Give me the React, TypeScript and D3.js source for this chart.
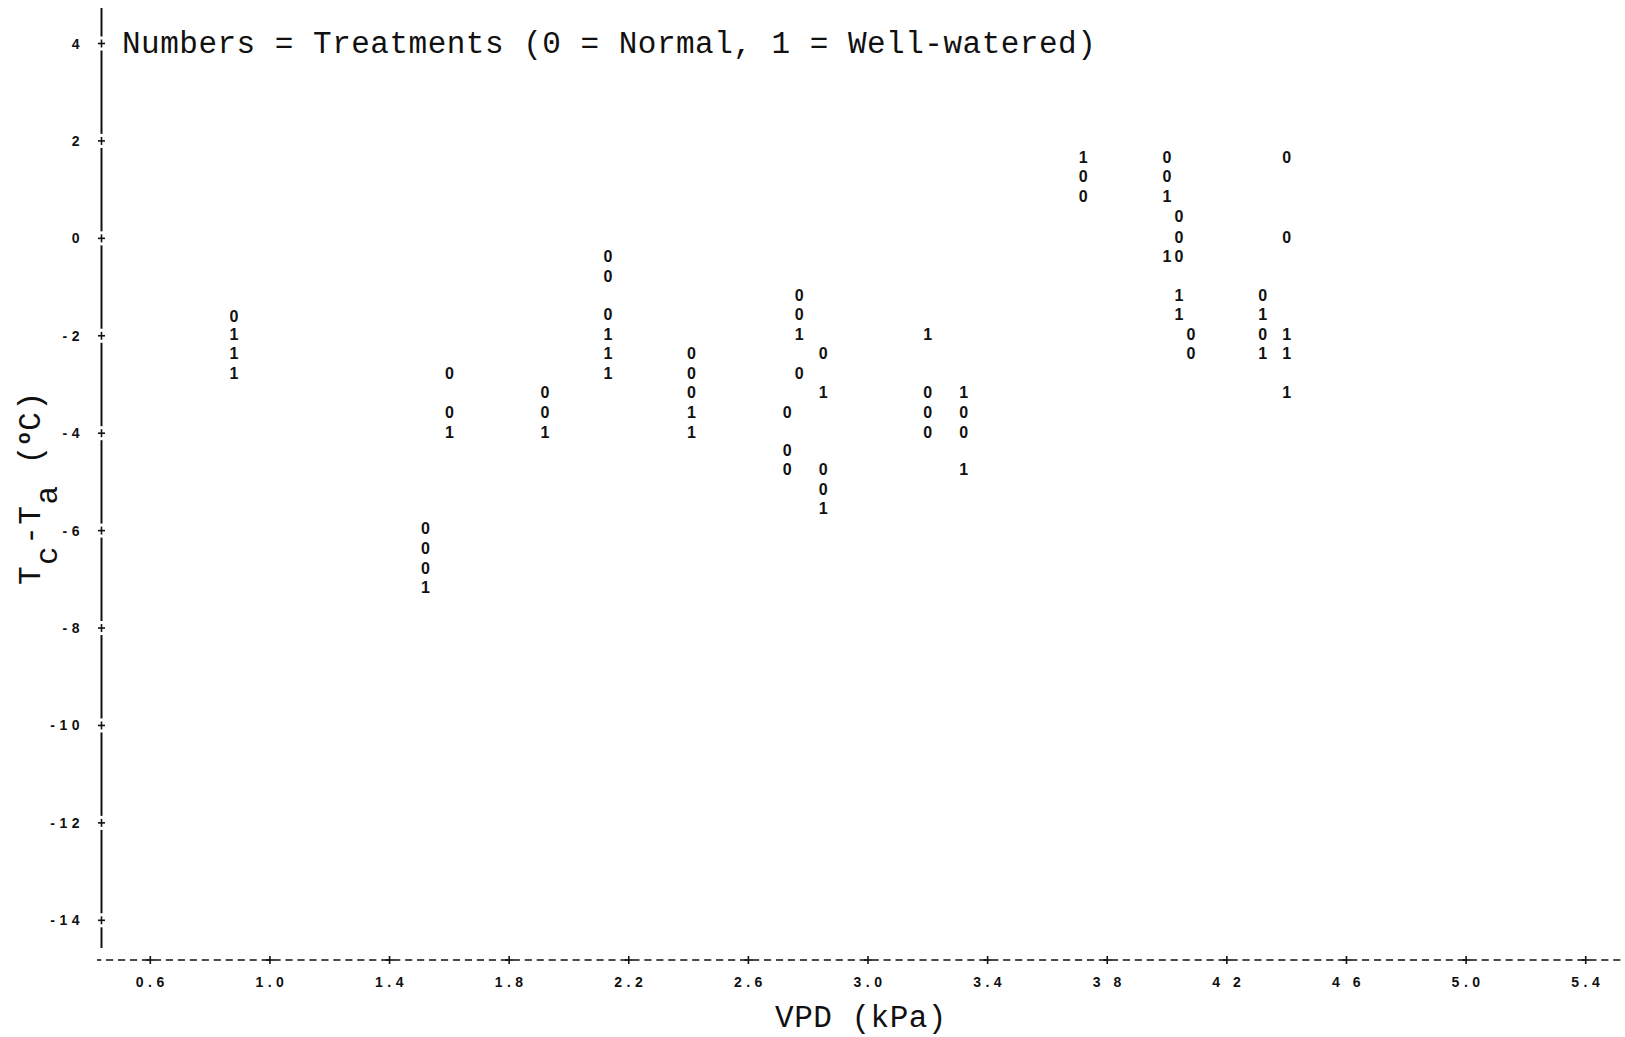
import React from "react";
import * as d3 from "d3";

// Treatment 0 = Normal
const normalVpd = [0.88, 1.52, 1.52, 1.52, 1.60, 1.60, 1.92, 1.92, 2.13, 2.13, 2.13, 2.41, 2.41, 2.41, 2.73, 2.73, 2.73, 2.77, 2.77, 2.77, 2.85, 2.85, 2.85, 3.20, 3.20, 3.20, 3.32, 3.32, 3.72, 3.72, 4.00, 4.00, 4.04, 4.04, 4.04, 4.08, 4.08, 4.32, 4.32, 4.40, 4.40];
const normalDiff = [-1.60, -5.96, -6.36, -6.77, -2.77, -3.57, -3.17, -3.57, -0.38, -0.79, -1.57, -2.36, -2.77, -3.17, -3.57, -4.36, -4.74, -1.17, -1.57, -2.77, -2.36, -4.74, -5.15, -3.17, -3.57, -3.98, -3.57, -3.98, 1.26, 0.85, 1.66, 1.26, 0.45, 0.02, -0.38, -1.98, -2.36, -1.17, -1.98, 1.66, 0.02];

// Treatment 1 = Well-watered
const wetVpd = [0.88, 0.88, 0.88, 1.52, 1.60, 1.92, 2.13, 2.13, 2.13, 2.41, 2.41, 2.77, 2.85, 2.85, 3.20, 3.32, 3.32, 3.72, 4.00, 4.00, 4.04, 4.04, 4.32, 4.32, 4.40, 4.40, 4.40];
const wetDiff = [-1.98, -2.36, -2.77, -7.17, -3.98, -3.98, -1.98, -2.36, -2.77, -3.57, -3.98, -1.98, -3.17, -5.55, -1.98, -3.17, -4.74, 1.66, 0.85, -0.38, -1.17, -1.57, -1.57, -2.36, -1.98, -2.36, -3.17];

const xTicks = [0.6, 1.0, 1.4, 1.8, 2.2, 2.6, 3.0, 3.4, 3.8, 4.2, 4.6, 5.0, 5.4];
const xTickLabels = ["0.6", "1.0", "1.4", "1.8", "2.2", "2.6", "3.0", "3.4", "3 8", "4 2", "4 6", "5.0", "5.4"];
const yTicks = [4, 2, 0, -2, -4, -6, -8, -10, -12, -14];

const title = "Numbers = Treatments (0 = Normal, 1 = Well-watered)";
const xTitle = "VPD (kPa)";

export default function App() {
  const W = 1625, H = 1037;
  const x = d3.scaleLinear().domain([0.6, 5.4]).range([150.3, 1585.7]);
  const y = d3.scaleLinear().domain([4, -14]).range([43.5, 920.3]);
  const axisX = 101.5;
  const axisY = 960;
  const mono = "'Liberation Mono', 'Courier New', monospace";
  const sans = "'Liberation Sans', Arial, sans-serif";
  const period = (x(1.0) - x(0.6)) / 10;

  // y-axis segments between ticks (gaps at "+")
  const yStops = [8, ...yTicks.map((t) => y(t)), 948];
  const segs: [number, number][] = [];
  for (let i = 0; i < yStops.length - 1; i++) {
    const a = yStops[i] + (i === 0 ? 0 : 7);
    const b = yStops[i + 1] - (i === yStops.length - 2 ? 0 : 7);
    if (b > a) segs.push([a, b]);
  }

  const pts = [
    ...normalVpd.map((v, i) => ({ v, d: normalDiff[i], s: "0" })),
    ...wetVpd.map((v, i) => ({ v, d: wetDiff[i], s: "1" })),
  ];

  return (
    <svg width={W} height={H} style={{ position: "absolute", left: 0, top: 0, background: "#fff" }}>
      <rect width={W} height={H} fill="#fff" />
      {/* y axis */}
      {segs.map(([a, b], i) => (
        <line key={i} x1={axisX} x2={axisX} y1={a} y2={b} stroke="#111" strokeWidth={2} />
      ))}
      {yTicks.map((t) => (
        <g key={t}>
          <line x1={axisX - 3.5} x2={axisX + 3.5} y1={y(t)} y2={y(t)} stroke="#111" strokeWidth={1.6} />
          <line x1={axisX} x2={axisX} y1={y(t) - 4} y2={y(t) + 4} stroke="#111" strokeWidth={1.6} />
          <text x={84} y={y(t)} textAnchor="end" dominantBaseline="central" fontFamily={sans} fontSize={14} fontWeight="bold" letterSpacing={4.5} fill="#111">
            {t < 0 ? "-" + Math.abs(t) : String(t)}
          </text>
        </g>
      ))}
      {/* x axis dashed */}
      <line x1={97} x2={W} y1={axisY} y2={axisY} stroke="#111" strokeWidth={1.6}
        strokeDasharray={`${period * 0.6} ${period * 0.4}`} strokeDashoffset={-((x(0.6) - 97) % period) + period * 0.2 - period * 0.5} />
      {xTicks.map((t, i) => (
        <g key={t}>
          <line x1={x(t) - 4} x2={x(t) + 4} y1={axisY} y2={axisY} stroke="#111" strokeWidth={1.6} />
          <line x1={x(t)} x2={x(t)} y1={axisY - 4} y2={axisY + 4} stroke="#111" strokeWidth={1.6} />
          <text x={x(t) + 2} y={982} textAnchor="middle" dominantBaseline="central" fontFamily={sans} fontSize={14} fontWeight="bold" letterSpacing={4.5} fill="#111">
            {xTickLabels[i]}
          </text>
        </g>
      ))}
      {/* points */}
      {pts.map((p, i) => (
        <text key={i} x={x(p.v)} y={y(p.d)} textAnchor="middle" dominantBaseline="central" fontFamily={sans} fontSize={16} fontWeight="bold" fill="#111">
          {p.s}
        </text>
      ))}
      {/* title */}
      <text x={122} y={53} fontFamily={mono} fontSize={31} letterSpacing={0.5} fill="#111">{title}</text>
      {/* x title */}
      <text x={861} y={1027} textAnchor="middle" fontFamily={mono} fontSize={31} letterSpacing={0.5} fill="#111">{xTitle}</text>
      {/* y title */}
      <text transform="translate(40,585) rotate(-90)" fontFamily={mono} fontSize={31} letterSpacing={1.5} fill="#111">
        <tspan>T</tspan>
        <tspan dy={17}>c</tspan>
        <tspan dy={-17}>-T</tspan>
        <tspan dy={17}>a</tspan>
        <tspan dy={-17}>{"\u00a0("}</tspan>
        <tspan dy={-10} fontSize={20} fontWeight="bold">o</tspan>
        <tspan dy={10}>C)</tspan>
      </text>
    </svg>
  );
}
